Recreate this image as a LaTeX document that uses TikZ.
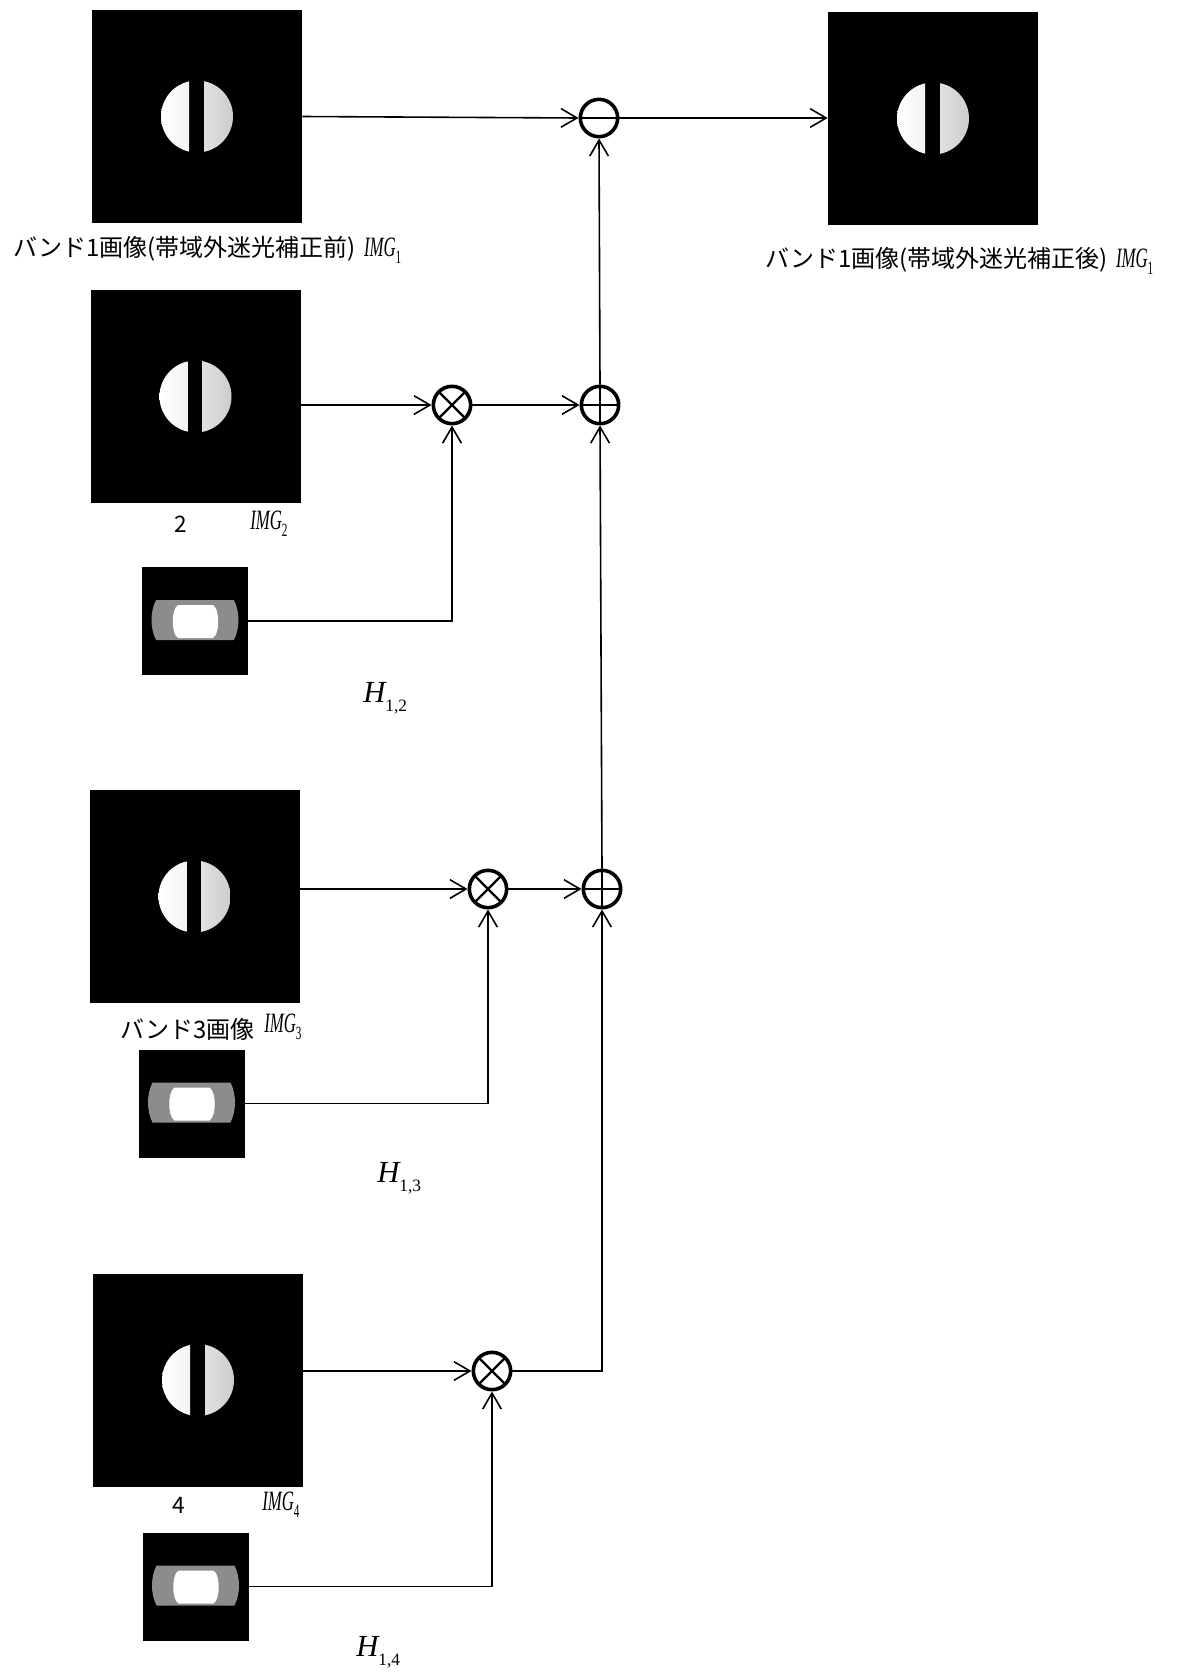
\documentclass[tikz,border=0pt]{standalone}
\usepackage{fontspec}
\usepackage{graphicx}
\usetikzlibrary{arrows.meta}
\newfontfamily\jp{Noto Sans CJK JP}
\newfontfamily\tms{Liberation Serif}
\newcommand\imgsym[1]{\scalebox{0.6}[1]{\tms\fontsize{21}{21}\selectfont\itshape IMG\raisebox{-5.5pt}{\upshape\fontsize{14}{14}\selectfont #1}}}
\newcommand\hsym[1]{{\tms\fontsize{23}{23}\selectfont\itshape H}\raisebox{-7pt}{\tms\fontsize{13}{13}\selectfont #1}}
\begin{document}
\begin{tikzpicture}[x=0.75pt,y=-0.75pt,
  bigimg/.style={rectangle, fill=black, inner sep=0pt, minimum width=157.5pt, minimum height=159.75pt},
  kernimg/.style={rectangle, fill=black, inner sep=0pt, minimum width=79.5pt, minimum height=81pt},
  opnode/.style={circle, draw, line width=2.7pt, minimum size=28pt, inner sep=0pt, fill=white},
  minusop/.style={opnode, path picture={\draw[line width=1.7pt] (path picture bounding box.west) -- (path picture bounding box.east);}},
  plusop/.style={opnode, path picture={\draw[line width=1.7pt] (path picture bounding box.west) -- (path picture bounding box.east) (path picture bounding box.north) -- (path picture bounding box.south);}},
  multop/.style={opnode, path picture={\draw[line width=1.7pt] (path picture bounding box.north west) -- (path picture bounding box.south east) (path picture bounding box.north east) -- (path picture bounding box.south west);}},
  arr/.style={line width=1.2pt, -{Straight Barb[length=12pt,width=14pt]}},
  lbl/.style={inner sep=0pt, font=\jp\fontsize{18}{18}\selectfont},
  dlbl/.style={inner sep=0pt, font=\jp\fontsize{17}{17}\selectfont},
  mlbl/.style={inner sep=0pt}
]
\fill[white] (0,0) rectangle (1185,1674);
\useasboundingbox (0,0) rectangle (1185,1674);

% image nodes
\node[bigimg] (b1) at (197,116.5) {};
\node[bigimg] (o)  at (933,118.5) {};
\node[bigimg] (b2) at (195.5,396.5) {};
\node[bigimg] (b3) at (194.5,896.5) {};
\node[bigimg] (b4) at (198,1380) {};
\node[kernimg] (k2) at (195,621) {};
\node[kernimg] (k3) at (191.5,1103.5) {};
\node[kernimg] (k4) at (195.5,1586.5) {};

\foreach \n in {b1,b2,b3,b4,o}{
  \begin{scope}[shift={(\n.center)}]
    \begin{scope}
      \clip (-40,-40) rectangle (-8,40);
      \shade[left color=white, right color=black!12] (0,0) circle (27pt);
    \end{scope}
    \begin{scope}
      \clip (7,-40) rectangle (40,40);
      \shade[left color=white, right color=black!20] (0,0) circle (27pt);
    \end{scope}
  \end{scope}
}
\foreach \n in {k2,k3,k4}{
  \begin{scope}[shift={(\n.center)}]
    \fill[black!45] (-39,-21) -- (39,-21) .. controls (45,-9) and (45,7) .. (39,19) -- (-39,19) .. controls (-45,7) and (-45,-9) .. (-39,-21) -- cycle;
    \fill[white] (-17,-16) -- (18,-16) .. controls (25,-12) and (25,13) .. (18,17) -- (-17,17) .. controls (-24,13) and (-24,-12) .. (-17,-16) -- cycle;
  \end{scope}
}

% operators
\node[minusop] (mn) at (599,118) {};
\node[plusop]  (p1) at (600,405) {};
\node[plusop]  (p2) at (602,889) {};
\node[multop]  (m1) at (452,405) {};
\node[multop]  (m2) at (488,889) {};
\node[multop]  (m3) at (492,1371) {};

% connectors
\draw[arr] (b1.east) -- (mn.west);
\draw[arr] (mn.east) -- (o.west |- mn.east);
\draw[arr] (p1.north) -- (mn.south);
\draw[arr] (p2.north) -- (p1.south);
\draw[arr] (b2.east |- m1.west) -- (m1.west);
\draw[arr] (m1.east) -- (p1.west);
\draw[arr] (k2.east) -| (m1.south);
\draw[arr] (b3.east |- m2.west) -- (m2.west);
\draw[arr] (m2.east) -- (p2.west);
\draw[arr] (k3.east) -| (m2.south);
\draw[arr] (b4.east |- m3.west) -- (m3.west);
\draw[arr] (k4.east) -| (m3.south);
\draw[arr] (m3.east) -| (p2.south);

% labels
\node[lbl, anchor=base west] (t1) at (13,256) {バンド1画像(帯域外迷光補正前)\hspace{6pt}\imgsym{1}};
\node[lbl, anchor=base west] (t0) at (765,267) {バンド1画像(帯域外迷光補正後)\hspace{6pt}\imgsym{1}};
\node[dlbl, anchor=base west] (t2) at (174,532) {2};
\node[mlbl, anchor=base west] (i2) at (250,529) {\imgsym{2}};
\node[lbl, anchor=base west] (t3) at (120,1038) {バンド3画像};
\node[mlbl, anchor=base west] (i3) at (264,1032) {\imgsym{3}};
\node[dlbl, anchor=base west] (t4) at (172,1513) {4};
\node[mlbl, anchor=base west] (i4) at (262,1510) {\imgsym{4}};
\node[mlbl, anchor=base west] (h2) at (363,702) {\hsym{1,2}};
\node[mlbl, anchor=base west] (h3) at (377,1182) {\hsym{1,3}};
\node[mlbl, anchor=base west] (h4) at (356,1656) {\hsym{1,4}};
\end{tikzpicture}
\end{document}
